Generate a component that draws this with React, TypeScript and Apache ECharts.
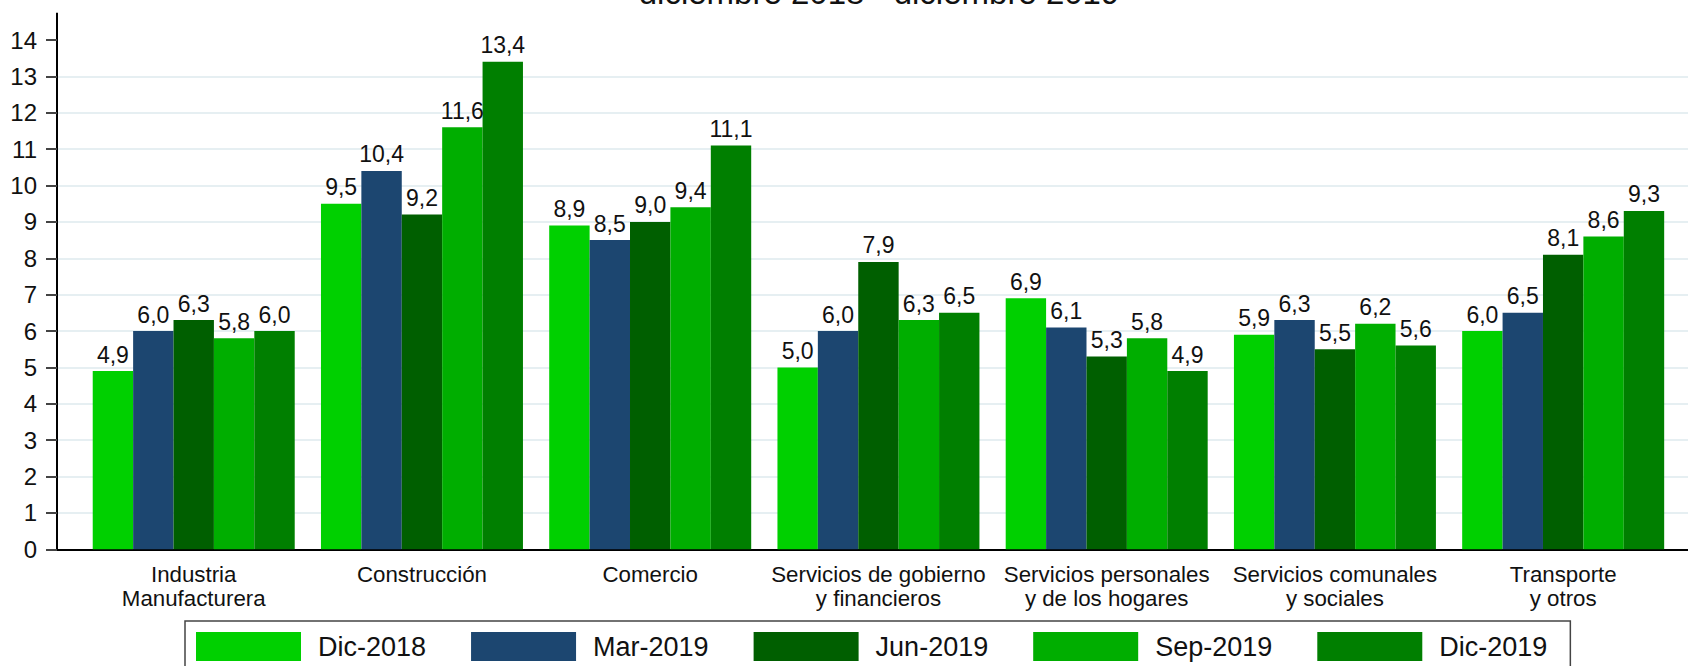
import React, { useEffect, useRef } from "react";
import * as echarts from "echarts";

const categories = [
  "Industria\nManufacturera",
  "Construcción",
  "Comercio",
  "Servicios de gobierno\ny financieros",
  "Servicios personales\ny de los hogares",
  "Servicios comunales\ny sociales",
  "Transporte\ny otros",
];

const seriesNames = ["Dic-2018", "Mar-2019", "Jun-2019", "Sep-2019", "Dic-2019"];
const seriesColors = ["#00d000", "#1c4670", "#005f00", "#00ae00", "#007f00"];

const dic2018 = [4.9, 9.5, 8.9, 5.0, 6.9, 5.9, 6.0];
const mar2019 = [6.0, 10.4, 8.5, 6.0, 6.1, 6.3, 6.5];
const jun2019 = [6.3, 9.2, 9.0, 7.9, 5.3, 5.5, 8.1];
const sep2019 = [5.8, 11.6, 9.4, 6.3, 5.8, 6.2, 8.6];
const dic2019 = [6.0, 13.4, 11.1, 6.5, 4.9, 5.6, 9.3];

const yMin = 0;
const yMax = 14;
const yInterval = 1;

const titleText = "diciembre 2018 - diciembre 2019";

const FONT = "'Liberation Sans', Arial, sans-serif";

export default function App() {
  const ref = useRef<HTMLDivElement>(null);

  useEffect(() => {
    if (!ref.current) return;
    const chart = echarts.init(ref.current, undefined, { renderer: "svg" });
    const allData = [dic2018, mar2019, jun2019, sep2019, dic2019];
    const gridColors: string[] = [];
    for (let v = yMin; v <= yMax; v += yInterval) {
      gridColors.push(v === yMin || v === yMax ? "rgba(0,0,0,0)" : "#e6eff2");
    }
    const option = {
      animation: false,
      backgroundColor: "#ffffff",
      textStyle: { fontFamily: FONT },
      grid: [
        { left: 79.6, right: 10.7, top: 40, bottom: 116.7, containLabel: false },
        { left: 57, right: 0, top: 40, bottom: 116.7, containLabel: false },
      ],
      xAxis: [
        {
          type: "category",
          gridIndex: 0,
          data: categories,
          axisLine: { show: false },
          axisTick: { show: false },
          splitLine: { show: false },
          axisLabel: {
            interval: 0,
            fontSize: 22.3,
            lineHeight: 24,
            margin: 13,
            color: "#111111",
            fontFamily: FONT,
          },
        },
        {
          type: "value",
          gridIndex: 1,
          min: 0,
          max: 1,
          axisLine: { show: true, onZero: false, lineStyle: { color: "#000000", width: 2 } },
          axisTick: { show: false },
          axisLabel: { show: false },
          splitLine: { show: false },
        },
      ],
      yAxis: [
        {
          type: "value",
          gridIndex: 0,
          min: yMin,
          max: yMax,
          interval: yInterval,
          show: false,
        },
        {
          type: "value",
          gridIndex: 1,
          min: yMin,
          max: yMax,
          interval: yInterval,
          axisLine: { show: true, lineStyle: { color: "#000000", width: 2 } },
          axisTick: { show: true, length: 11, lineStyle: { color: "#444444", width: 2 } },
          axisLabel: {
            fontSize: 24,
            margin: 20,
            color: "#111111",
            fontFamily: FONT,
          },
          splitLine: { show: true, lineStyle: { color: gridColors, width: 2 } },
        },
      ],
      legend: {
        left: 185,
        top: 621,
        orient: "horizontal",
        padding: [11, 23, 11, 11],
        itemGap: 45,
        itemWidth: 105,
        itemHeight: 29,
        borderColor: "#444444",
        borderWidth: 1.5,
        icon: "rect",
        textStyle: {
          fontSize: 27,
          lineHeight: 29,
          color: "#111111",
          fontFamily: FONT,
          padding: [0, 0, 0, 12],
        },
        data: seriesNames,
      },
      graphic: [
        {
          type: "line",
          shape: { x1: 57, y1: 12.7, x2: 57, y2: 41 },
          style: { stroke: "#000000", lineWidth: 2 },
          silent: true,
        },
        {
          type: "text",
          x: 879,
          y: 8.5,
          style: {
            text: titleText,
            fill: "#111111",
            font: `33px ${FONT}`,
            textAlign: "center",
            textVerticalAlign: "bottom",
          },
          silent: true,
        },
      ],
      series: seriesNames.map((name, i) => ({
        name,
        type: "bar",
        xAxisIndex: 0,
        yAxisIndex: 0,
        data: allData[i],
        barGap: "0%",
        barCategoryGap: "11.5%",
        itemStyle: { color: seriesColors[i] },
        label: {
          show: true,
          position: "top",
          distance: 5,
          fontSize: 23,
          color: "#111111",
          fontFamily: FONT,
          formatter: (p: any) => Number(p.value).toFixed(1).replace(".", ","),
        },
      })),
    };
    chart.setOption(option as any);
    return () => chart.dispose();
  }, []);

  return (
    <div
      ref={ref}
      style={{ position: "fixed", left: 0, top: 0, width: 1688, height: 666, background: "#fff" }}
    />
  );
}
